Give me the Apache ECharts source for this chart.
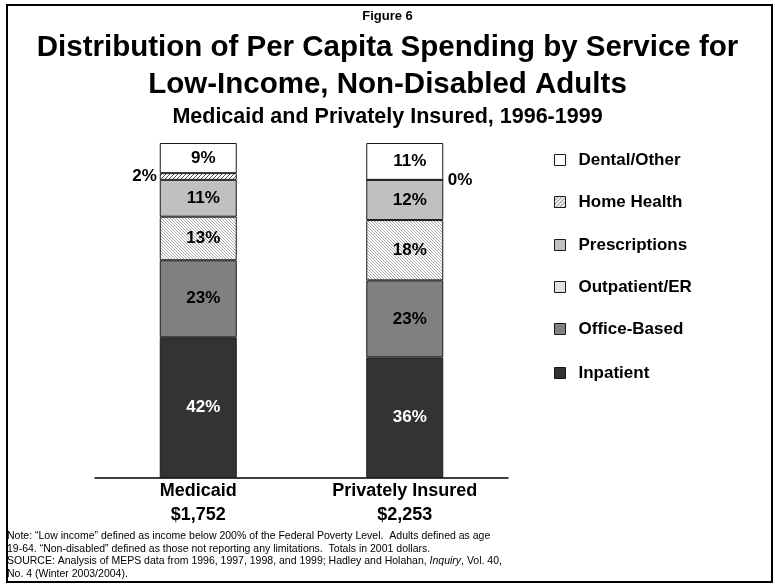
<!DOCTYPE html>
<html>
<head>
<meta charset="utf-8">
<script src="https://cdn.jsdelivr.net/npm/echarts@6/dist/echarts.min.js"></script>
<style>
  html, body { margin: 0; padding: 0; background: #fff; }
  #chart { width: 775px; height: 584px; }
</style>
</head>
<body>
<div id="chart"></div>
<script>
// Spending distribution data (percent of per capita spending)
const categories = ['Medicaid', 'Privately Insured'];
const totals = ['$1,752', '$2,253'];
const inpatient = [42, 36];
const officeBased = [23, 23];
const outpatientER = [13, 18];
const prescriptions = [11, 12];
const homeHealth = [2, 0];
const dentalOther = [9, 11];

const FONT = "'Liberation Sans', Arial, Helvetica, sans-serif";

// Diagonal hatch tile used as a fill pattern
function hatch(dir, lineColor, bg, step, width) {
  const c = document.createElement('canvas');
  c.width = step; c.height = step;
  const g = c.getContext('2d');
  g.fillStyle = bg; g.fillRect(0, 0, step, step);
  g.strokeStyle = lineColor; g.lineWidth = width;
  g.beginPath();
  if (dir === '/') {
    g.moveTo(-1, step + 1); g.lineTo(step + 1, -1);
    g.moveTo(-1, 1); g.lineTo(1, -1);
    g.moveTo(step - 1, step + 1); g.lineTo(step + 1, step - 1);
  } else {
    g.moveTo(-1, -1); g.lineTo(step + 1, step + 1);
    g.moveTo(step - 1, -1); g.lineTo(step + 1, 1);
    g.moveTo(-1, step - 1); g.lineTo(1, step + 1);
  }
  g.stroke();
  return { image: c, repeat: 'repeat' };
}

const homePattern = hatch('/', '#555', '#ffffff', 4, 1);
const outPattern = hatch('\\', '#a8a8a8', '#ffffff', 3, 1);

const labelBase = {
  show: true,
  position: 'inside',
  offset: [5, 0],
  formatter: '{c}%',
  fontFamily: FONT,
  fontWeight: 'bold',
  fontSize: 17,
  color: '#000'
};

function makeSeries(name, data, color, labelOverride) {
  return {
    name: name,
    type: 'bar',
    stack: 'total',
    barWidth: 77,
    data: data,
    itemStyle: { color: color, borderColor: '#1a1a1a', borderWidth: 1 },
    label: Object.assign({}, labelBase, labelOverride || {}),
    emphasis: { disabled: true },
    animation: false
  };
}

const homeData = homeHealth.map(function (v, i) {
  return {
    value: v,
    label: i === 0
      ? { position: 'left', distance: 3, offset: [0, 0] }
      : { position: 'right', distance: 4, offset: [0, 0] }
  };
});

const series = [
  makeSeries('Inpatient', inpatient, '#333333', { color: '#ffffff' }),
  makeSeries('Office-Based', officeBased, '#808080'),
  makeSeries('Outpatient/ER', outpatientER, outPattern),
  makeSeries('Prescriptions', prescriptions, '#c0c0c0'),
  makeSeries('Home Health', homeData, homePattern),
  makeSeries('Dental/Other', dentalOther, '#ffffff')
];

// Legend entries, top to bottom, with their vertical centres
const legendNames = ['Dental/Other', 'Home Health', 'Prescriptions', 'Outpatient/ER', 'Office-Based', 'Inpatient'];
const legendCenters = [155, 197, 240, 282, 324, 368];
const legends = legendNames.map(function (n, i) {
  return {
    data: [n],
    orient: 'vertical',
    left: 549,
    top: legendCenters[i] - 9,
    itemWidth: 11,
    itemHeight: 11,
    icon: 'rect',
    selectedMode: false,
    itemStyle: { borderColor: '#1a1a1a', borderWidth: 1 },
    textStyle: {
      fontFamily: FONT, fontWeight: 'bold', fontSize: 17, color: '#000',
      lineHeight: 18, padding: [0, 0, 0, 8]
    }
  };
});

const chart = echarts.init(document.getElementById('chart'), null, { renderer: 'canvas' });
chart.setOption({
  backgroundColor: '#ffffff',
  animation: false,
  grid: { left: 95, right: 267, top: 143, bottom: 106 },
  legend: legends,
  xAxis: {
    type: 'category',
    data: categories,
    axisLine: { show: true, lineStyle: { color: '#000', width: 1.5 } },
    axisTick: { show: false },
    axisLabel: {
      margin: 1,
      interval: 0,
      formatter: function (v, i) { return '{a|' + v + '}\n{a|' + totals[i] + '}'; },
      rich: {
        a: { fontFamily: FONT, fontWeight: 'bold', fontSize: 18, color: '#000', lineHeight: 24 }
      }
    }
  },
  yAxis: {
    type: 'value', min: 0, max: 100, show: false,
    splitLine: { show: false }
  },
  series: series,
  graphic: [
    {
      type: 'rect', silent: true,
      shape: { x: 7, y: 5, width: 765, height: 577 },
      style: { fill: null, stroke: '#000', lineWidth: 2 }
    },
    {
      type: 'text', left: 'center', top: 10,
      style: { text: 'Figure 6', font: 'bold 13px ' + FONT, fill: '#000' }
    },
    {
      type: 'text', left: 'center', top: 33,
      style: { text: 'Distribution of Per Capita Spending by Service for', font: 'bold 29.5px ' + FONT, fill: '#000' }
    },
    {
      type: 'text', left: 'center', top: 70,
      style: { text: 'Low-Income, Non-Disabled Adults', font: 'bold 29.5px ' + FONT, fill: '#000' }
    },
    {
      type: 'text', left: 'center', top: 106,
      style: { text: 'Medicaid and Privately Insured, 1996-1999', font: 'bold 21.5px ' + FONT, fill: '#000' }
    },
    {
      type: 'text', left: 7, top: 530,
      style: {
        text: 'Note: \u201cLow income\u201d defined as income below 200% of the Federal Poverty Level.  Adults defined as age\n' +
              '19-64. \u201cNon-disabled\u201d defined as those not reporting any limitations.  Totals in 2001 dollars.\n' +
              'SOURCE: Analysis of MEPS data from 1996, 1997, 1998, and 1999; Hadley and Holahan, {i|Inquiry}, Vol. 40,\n' +
              'No. 4 (Winter 2003/2004).',
        font: '10.5px ' + FONT,
        fill: '#000',
        lineHeight: 12.5,
        rich: { i: { fontStyle: 'italic', fontSize: 10.5, fontFamily: FONT, lineHeight: 12.5 } }
      }
    }
  ]
});
</script>
</body>
</html>
